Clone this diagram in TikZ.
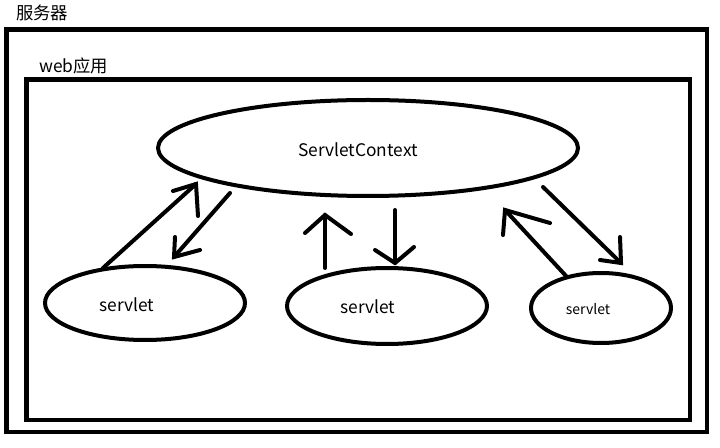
\documentclass[tikz,border=0pt]{standalone}
\usepackage{fontspec}
\setmainfont{Noto Sans CJK SC}
\begin{document}
\begin{tikzpicture}[x=0.75pt,y=-0.75pt,
  box/.style={draw=black,line width=3.6pt},
  oval/.style={draw=black,line width=3pt},
  arr/.style={draw=black,line width=3pt,line cap=round},
  lbl/.style={font=\fontsize{13}{15}\selectfont,inner sep=0pt},
  tiny/.style={font=\fontsize{10.5}{12}\selectfont,inner sep=0pt}]
\useasboundingbox[fill=white] (0,0) rectangle (720,448);
% frames
\draw[box] (6.5,29.5) rectangle (707,432);
\draw[box] (26.5,79.5) rectangle (690,420);
\node[lbl,anchor=west] (server) at (16,13) {服务器};
\node[lbl,anchor=west] (webapp) at (39,66) {web应用};
% ellipses
\draw[oval] (368,148) ellipse [x radius=210, y radius=48];
\node[lbl] (ctx) at (358,150) {ServletContext};
\draw[oval] (145,303) ellipse [x radius=100, y radius=37];
\node[lbl] (s1) at (127,305) {servlet};
\draw[oval] (387,306) ellipse [x radius=100, y radius=38];
\node[lbl] (s2) at (368,307) {servlet};
\draw[oval] (601,308) ellipse [x radius=70, y radius=35];
\node[tiny] (s3) at (588,309) {servlet};
% left pair
\coordinate (a1t) at (103,268); \coordinate (a1h) at (196,184);
\coordinate (a1b1) at (173,191); \coordinate (a1b2) at (198,216);
\draw[arr] (a1t) -- (a1h); \draw[arr] (a1b1) -- (a1h) -- (a1b2);
\coordinate (a2t) at (230,193); \coordinate (a2h) at (174,257);
\coordinate (a2b1) at (175,237); \coordinate (a2b2) at (200,250);
\draw[arr] (a2t) -- (a2h); \draw[arr] (a2b1) -- (a2h) -- (a2b2);
% middle pair
\coordinate (a3t) at (325,268); \coordinate (a3h) at (325,215);
\coordinate (a3b1) at (305,233); \coordinate (a3b2) at (351,234);
\draw[arr] (a3t) -- (a3h); \draw[arr] (a3b1) -- (a3h) -- (a3b2);
\coordinate (a4t) at (395,210); \coordinate (a4h) at (395,263);
\coordinate (a4b1) at (375,250); \coordinate (a4b2) at (414,247);
\draw[arr] (a4t) -- (a4h); \draw[arr] (a4b1) -- (a4h) -- (a4b2);
% right pair
\coordinate (a5t) at (567,277); \coordinate (a5h) at (505,210);
\coordinate (a5b1) at (503,235); \coordinate (a5b2) at (550,223);
\draw[arr] (a5t) -- (a5h); \draw[arr] (a5b1) -- (a5h) -- (a5b2);
\coordinate (a6t) at (543,187); \coordinate (a6h) at (621,263);
\coordinate (a6b1) at (600,260); \coordinate (a6b2) at (620,237);
\draw[arr] (a6t) -- (a6h); \draw[arr] (a6b1) -- (a6h) -- (a6b2);
\end{tikzpicture}
\end{document}
